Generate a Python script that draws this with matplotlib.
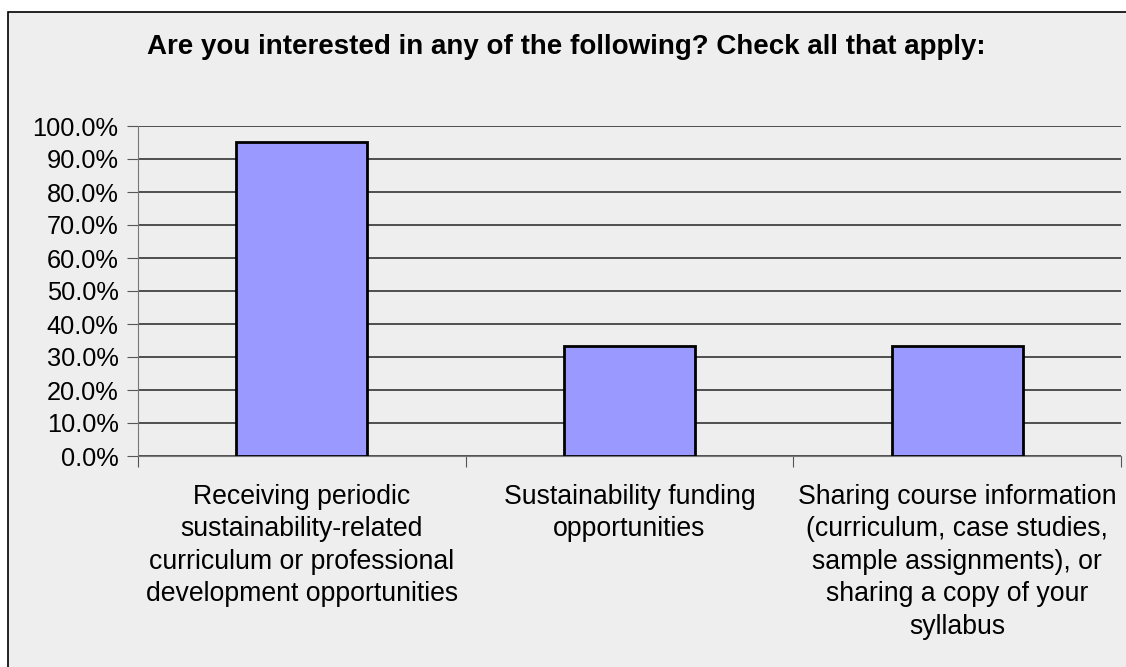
import matplotlib.pyplot as plt
from matplotlib.patches import Rectangle
from matplotlib.ticker import PercentFormatter

plt.rcParams['font.family'] = ['Liberation Sans', 'DejaVu Sans']

categories = [
    "Receiving periodic\nsustainability-related\ncurriculum or professional\ndevelopment opportunities",
    "Sustainability funding\nopportunities",
    "Sharing course information\n(curriculum, case studies,\nsample assignments), or\nsharing a copy of your\nsyllabus",
]
values = [95.2, 33.3, 33.3]
title = "Are you interested in any of the following? Check all that apply:"

bg = '#eeeeee'
fig = plt.figure(figsize=(11.26, 6.67), dpi=100, facecolor='white')
# outer chart frame
fig.patches.append(Rectangle((8 / 1126, -0.01), 1.2, (667 - 12) / 667 + 0.01, transform=fig.transFigure,
                             facecolor=bg, edgecolor='black', linewidth=1.2, zorder=-10))

ax = fig.add_axes([138 / 1126, 1 - 456 / 667, (1121 - 138) / 1126, 330 / 667])
ax.set_facecolor(bg)
x = range(len(categories))
ax.bar(x, values, width=0.4, color='#9999ff', edgecolor='black', linewidth=2, zorder=3)

ax.set_ylim(0, 100)
ax.set_xlim(-0.5, len(categories) - 0.5)
ax.set_yticks(range(0, 101, 10))
ax.yaxis.set_major_formatter(PercentFormatter(decimals=1))
ax.grid(axis='y', color='#333333', linewidth=1.2, zorder=1)

ax.set_xticks([i - 0.5 for i in range(len(categories) + 1)])
ax.set_xticklabels([])
ax.tick_params(axis='x', direction='out', length=8, color='#555555')
ax.tick_params(axis='y', direction='out', length=8, color='#555555', labelsize=18.3, pad=6)
for s in ['top', 'right']:
    ax.spines[s].set_visible(False)
ax.spines['left'].set_color('#777777')
ax.spines['bottom'].set_color('#777777')

for i, label in enumerate(categories):
    ax.text(i, -0.085, label, transform=ax.get_xaxis_transform(), ha='center', va='top',
            fontsize=19.2, linespacing=1.32)

fig.text(566 / 1126, 1 - 47 / 667, title, ha='center', va='center', fontsize=20, fontweight='bold')

fig.savefig('out.png', dpi=100, facecolor='white')
